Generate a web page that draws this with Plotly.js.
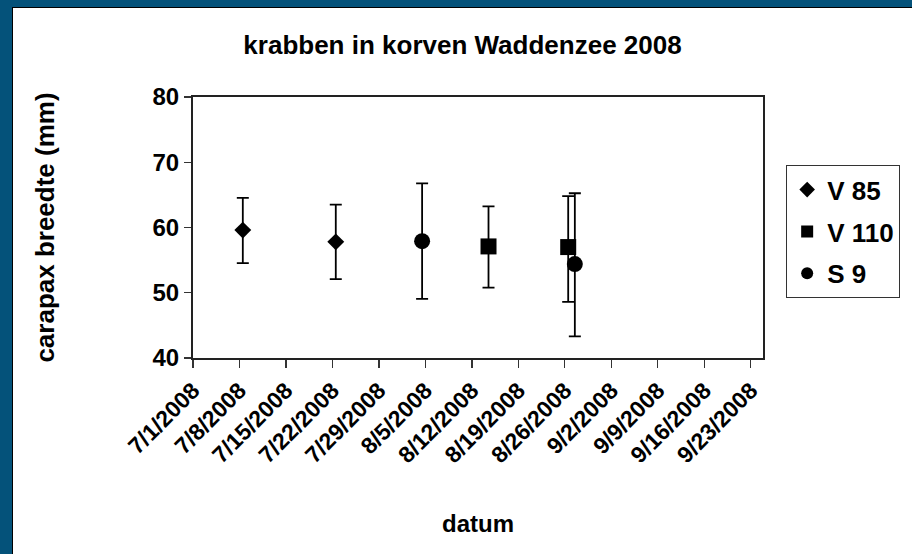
<!DOCTYPE html>
<html>
<head>
<meta charset="utf-8">
<script src="https://cdn.plot.ly/plotly-3.0.1.min.js"></script>
<style>
  html, body { margin: 0; padding: 0; }
  body { width: 912px; height: 554px; background: #04527a; position: relative; overflow: hidden; }
  #frame { position: absolute; left: 12px; top: 7px; width: 900px; height: 547px; background: #ffffff;
           border-left: 1px solid #000; border-top: 1px solid #000; }
  #chart { position: absolute; left: 13px; top: 8px; width: 899px; height: 546px; }
</style>
</head>
<body>
<div id="frame"></div>
<div id="chart"></div>
<script>
// ---- data ----
const seriesNames = ["V 85", "V 110", "S 9"];

const v85Dates  = ["2008-07-08", "2008-07-22"];
const v85Values = [59.6, 57.8];
const v85ErrPlus  = [4.95, 5.7];
const v85ErrMinus = [5.05, 5.7];

const v110Dates  = ["2008-08-14", "2008-08-26"];
const v110Values = [57.1, 57.0];
const v110ErrPlus  = [6.15, 7.8];
const v110ErrMinus = [6.3, 8.4];

const s9Dates  = ["2008-08-04", "2008-08-27"];
const s9Values = [57.9, 54.4];
const s9ErrPlus  = [8.85, 10.85];
const s9ErrMinus = [8.85, 11.1];

const tickDates = ["2008-07-01","2008-07-08","2008-07-15","2008-07-22","2008-07-29","2008-08-05",
                   "2008-08-12","2008-08-19","2008-08-26","2008-09-02","2008-09-09","2008-09-16","2008-09-23"];
const tickLabels = ["7/1/2008","7/8/2008","7/15/2008","7/22/2008","7/29/2008","8/5/2008",
                    "8/12/2008","8/19/2008","8/26/2008","9/2/2008","9/9/2008","9/16/2008","9/23/2008"];

const yTicks = [40, 50, 60, 70, 80];

// Excel date axis places each day's point in the middle of the day slot
const midDay = d => d + " 12:00";

const FONT = "Liberation Sans, Arial, Helvetica, sans-serif";

function mk(name, dates, vals, plus, minus, symbol, size) {
  return {
    type: "scatter", mode: "markers", name: name, legendgroup: name,
    x: dates.map(midDay), y: vals,
    marker: { symbol: symbol, size: size, color: "#000000", line: { width: 0 } },
    error_y: { type: "data", symmetric: false, array: plus, arrayminus: minus,
               color: "#000000", thickness: 1.8, width: 6 },
    hoverinfo: "x+y"
  };
}

const traces = [
  mk(seriesNames[0], v85Dates, v85Values, v85ErrPlus, v85ErrMinus, "diamond", 13),
  mk(seriesNames[1], v110Dates, v110Values, v110ErrPlus, v110ErrMinus, "square", 16),
  mk(seriesNames[2], s9Dates, s9Values, s9ErrPlus, s9ErrMinus, "circle", 16)
];

const layout = {
  width: 899, height: 546,
  margin: { l: 180.3, r: 145.3, t: 88.7, b: 196 },
  paper_bgcolor: "#ffffff", plot_bgcolor: "#ffffff",
  font: { family: FONT, color: "#000000", weight: "bold" },
  showlegend: true,
  title: { text: "krabben in korven Waddenzee 2008", x: 0.5, xanchor: "center", xref: "container",
           y: 1 - (45 - 8) / 546, yanchor: "middle", yref: "container",
           font: { family: FONT, size: 26, weight: "bold", color: "#000" } },
  xaxis: {
    type: "date", range: ["2008-07-01", "2008-09-24 20:00"],
    tickmode: "array", tickvals: tickDates, ticktext: tickLabels,
    tickangle: -45, ticks: "outside", ticklen: 8, tickwidth: 1.2, tickcolor: "#333",
    tickfont: { family: FONT, size: 23, weight: "bold", color: "#000" },
    showline: true, mirror: true, linecolor: "#222", linewidth: 2,
    showgrid: false, zeroline: false, automargin: false,
    title: { text: "datum", font: { family: FONT, size: 24, weight: "bold", color: "#000" }, standoff: 48 }
  },
  yaxis: {
    range: [40, 80], tickmode: "array", tickvals: yTicks,
    ticks: "outside", ticklen: 7, tickwidth: 1.2, tickcolor: "#333",
    tickfont: { family: FONT, size: 24, weight: "bold", color: "#000" },
    showline: true, mirror: true, linecolor: "#222", linewidth: 2,
    showgrid: false, zeroline: false, automargin: false,
    title: { text: "carapax breedte (mm)", font: { family: FONT, size: 26, weight: "bold", color: "#000" }, standoff: 90 }
  },
  legend: {
    x: (790 - 193.3) / 573.4, xanchor: "left", y: (358 - 165) / 261.3, yanchor: "top",
    bordercolor: "#333", borderwidth: 1, bgcolor: "#ffffff",
    font: { family: FONT, size: 26, weight: "bold", color: "#000" },
    itemsizing: "constant", tracegroupgap: 5, itemwidth: 30
  }
};

Plotly.newPlot("chart", traces, layout, { staticPlot: true, displayModeBar: false });
</script>
</body>
</html>
